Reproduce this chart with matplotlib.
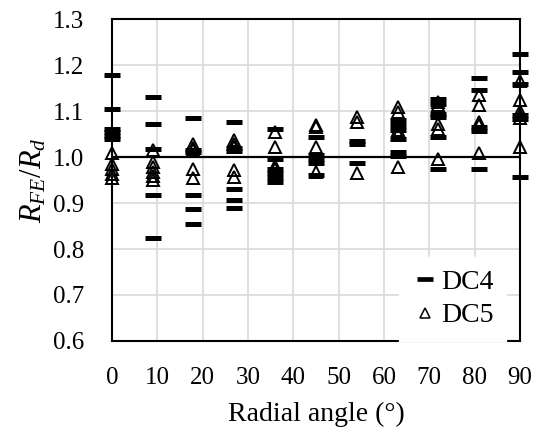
import numpy as np
import matplotlib.pyplot as plt

plt.rcParams['font.family'] = ['Liberation Serif', 'DejaVu Serif']
plt.rcParams['mathtext.fontset'] = 'custom'
plt.rcParams['mathtext.rm'] = 'Liberation Serif'
plt.rcParams['mathtext.it'] = 'Liberation Serif:italic'

# ratio of FE resistance to design resistance, grouped by radial angle
angles = [0, 9, 18, 27, 36, 45, 54, 63, 72, 81, 90]

dc4 = [
    [1.178, 1.104, 1.062, 1.054, 1.046, 1.040],
    [1.131, 1.073, 1.017, 0.917, 0.823],
    [1.086, 1.015, 1.010, 0.917, 0.886, 0.854],
    [1.077, 1.020, 1.014, 0.930, 0.906, 0.890],
    [1.062, 0.995, 0.975, 0.965, 0.955, 0.945],
    [1.044, 1.005, 0.995, 0.987, 0.962],
    [1.035, 1.028, 0.988],
    [1.080, 1.070, 1.060, 1.040, 1.012, 1.002],
    [1.126, 1.116, 1.094, 1.087, 1.044, 0.975],
    [1.171, 1.146, 1.065, 1.057, 0.975],
    [1.224, 1.186, 1.160, 1.091, 1.082, 0.957],
]

dc5 = [
    [1.008, 0.985, 0.975, 0.963, 0.955],
    [1.015, 0.990, 0.978, 0.968, 0.958, 0.950],
    [1.028, 1.020, 1.015, 0.975, 0.955],
    [1.037, 1.028, 1.021, 0.972, 0.957],
    [1.055, 1.022, 0.980, 0.975],
    [1.070, 1.065, 1.022, 0.968],
    [1.088, 1.076, 0.966],
    [1.108, 1.098, 1.060, 1.050, 0.978],
    [1.120, 1.114, 1.073, 1.062, 0.995],
    [1.135, 1.113, 1.077, 1.070, 1.008],
    [1.166, 1.124, 1.100, 1.092, 1.086, 1.022],
]

x4 = np.concatenate([[a] * len(v) for a, v in zip(angles, dc4)])
y4 = np.concatenate(dc4)
x5 = np.concatenate([[a] * len(v) for a, v in zip(angles, dc5)])
y5 = np.concatenate(dc5)

fig = plt.figure(figsize=(5.35, 4.36), dpi=100)
ax = fig.add_axes([0.209, 0.218, 0.763, 0.738])

ax.axhline(1.0, color='black', lw=1.6, zorder=2)
ax.plot(x4, y4, ls='none', marker='_', ms=11.5, mew=3.6, color='black',
        label='DC4', zorder=3, clip_on=False)
ax.plot(x5, y5, ls='none', marker='^', ms=9, mew=1.4, mec='black',
        fillstyle='none', label='DC5', zorder=4, clip_on=False)

ax.set_xlim(0, 90)
ax.set_ylim(0.6, 1.3)
ax.set_xticks(range(0, 91, 10))
ax.set_yticks(np.arange(0.6, 1.31, 0.1))
ax.set_yticklabels([f'{v:.1f}' for v in np.arange(0.6, 1.31, 0.1)])
ax.tick_params(length=0, labelsize=18)
ax.tick_params(axis='x', pad=19)
ax.tick_params(axis='y', pad=20)
ax.grid(color='#d9d9d9', lw=1.2)
ax.set_axisbelow(True)
for s in ax.spines.values():
    s.set_linewidth(1.5)
    s.set_color('black')

ax.set_xlabel('Radial angle (°)', fontsize=20, labelpad=9)
ax.set_ylabel('$R_{FE}/R_d$', fontsize=22, labelpad=3)

leg = ax.legend(loc='lower right', bbox_to_anchor=(0.965, 0), borderaxespad=0,
                fontsize=20, handlelength=1.0, handletextpad=0.05,
                fancybox=False, framealpha=1, edgecolor='white',
                borderpad=0.45, labelspacing=0.3)
leg.set_zorder(5)
leg.legend_handles[0].set_markersize(11)
leg.legend_handles[0].set_markeredgewidth(3.4)
leg.legend_handles[1].set_markersize(7)
leg.legend_handles[1].set_markeredgewidth(1.1)

fig.savefig('out.png', dpi=100)
